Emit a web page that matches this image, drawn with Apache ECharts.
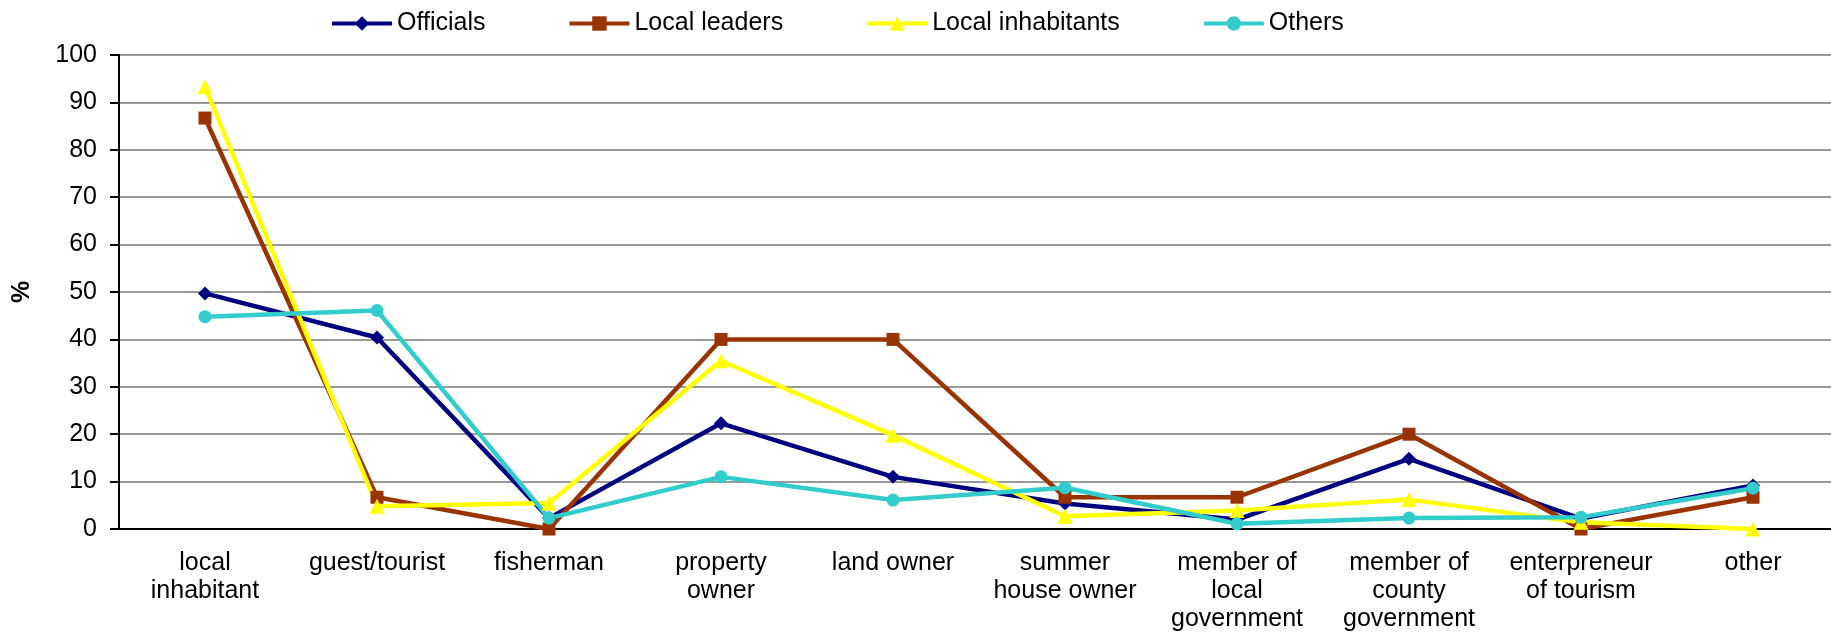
<!DOCTYPE html>
<html>
<head>
<meta charset="utf-8">
<script src="https://cdn.jsdelivr.net/npm/echarts@6/dist/echarts.min.js"></script>
<style>
  html, body { margin: 0; padding: 0; background: #fff; }
  #chart { width: 1831px; height: 635px; }
</style>
</head>
<body>
<div id="chart"></div>
<script>
// categories along the x axis
var categories = [
  "local\ninhabitant", "guest/tourist", "fisherman", "property\nowner", "land owner",
  "summer\nhouse owner", "member of\nlocal\ngovernment", "member of\ncounty\ngovernment",
  "enterpreneur\nof tourism", "other"
];

// % per group
var officials = [49.7, 40.4, 2.3, 22.3, 11.0, 5.4, 2.0, 14.8, 2.2, 9.2];
var localLeaders = [86.7, 6.7, 0, 40, 40, 6.7, 6.7, 20, 0, 6.7];
var localInhabitants = [93.3, 4.8, 5.5, 35.5, 19.8, 2.7, 3.9, 6.2, 1.4, 0];
var others = [44.8, 46.1, 2.3, 11.0, 6.1, 8.7, 1.1, 2.3, 2.5, 8.6];

var font = 'Arial, "Liberation Sans", sans-serif';

var dom = document.getElementById("chart");
var myChart = echarts.init(dom, null, { renderer: "canvas" });

function mkSeries(name, data, color, symbol, size) {
  return {
    name: name,
    type: "line",
    data: data,
    symbol: symbol,
    symbolSize: size,
    showAllSymbol: true,
    lineStyle: { color: color, width: 4.5 },
    itemStyle: { color: color, borderWidth: 0 },
    emphasis: { disabled: true }
  };
}

var option = {
  animation: false,
  backgroundColor: "#fff",
  textStyle: { fontFamily: font },
  legend: {
    left: 325,
    top: 6,
    itemWidth: 60,
    itemHeight: 18,
    itemGap: 82,
    lineStyle: { width: 4 },
    textStyle: { fontSize: 25, color: "#000", fontFamily: font }
  },
  grid: {
    left: 119,
    top: 55,
    width: 1720,
    height: 474,
    containLabel: false,
    outerBoundsMode: "none"
  },
  xAxis: {
    type: "category",
    data: categories,
    boundaryGap: true,
    axisLine: { lineStyle: { color: "#000", width: 2 } },
    axisTick: { length: 8, interval: 0, lineStyle: { color: "#000", width: 2 } },
    axisLabel: {
      interval: 0,
      margin: 20,
      fontSize: 25,
      lineHeight: 28,
      color: "#000",
      fontFamily: font
    },
    splitLine: { show: false }
  },
  yAxis: {
    type: "value",
    min: 0,
    max: 100,
    interval: 10,
    name: "%",
    nameLocation: "middle",
    nameGap: 84,
    nameRotate: 90,
    nameTextStyle: { fontSize: 25, fontWeight: "bold", color: "#000", fontFamily: font },
    axisLine: { show: true, lineStyle: { color: "#000", width: 2 } },
    axisTick: { show: true, length: 9, lineStyle: { color: "#000", width: 2 } },
    axisLabel: { margin: 22, fontSize: 25, color: "#000", fontFamily: font },
    splitLine: { show: true, lineStyle: { color: "#999", width: 2 } }
  },
  series: [
    mkSeries("Officials", officials, "#000080", "diamond", 14),
    mkSeries("Local leaders", localLeaders, "#993300", "rect", 13),
    mkSeries("Local inhabitants", localInhabitants, "#FFFF00", "triangle", 15),
    mkSeries("Others", others, "#33CCCC", "circle", 13)
  ]
};

myChart.setOption(option);
window.addEventListener("resize", myChart.resize);
</script>
</body>
</html>
